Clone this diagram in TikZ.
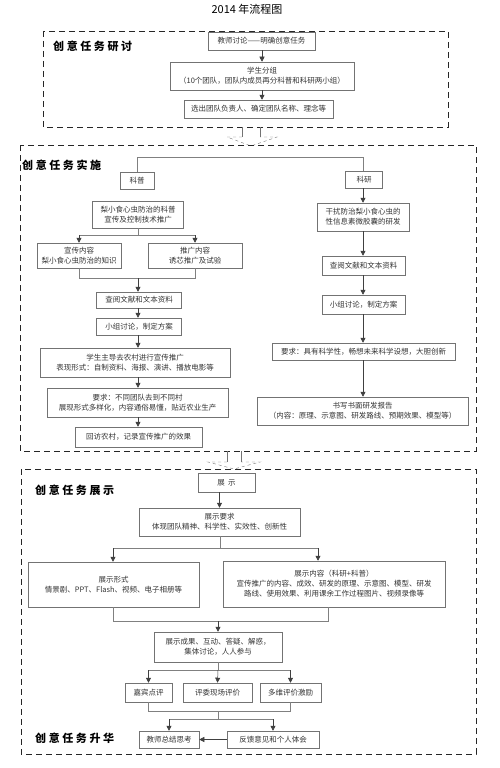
\documentclass[tikz,border=0pt]{standalone}
\usepackage{fontspec}
\setmainfont{Noto Sans CJK SC}
\usetikzlibrary{arrows.meta}
\newcommand\lsp{\kern2.6pt}
\begin{document}
\begin{tikzpicture}[x=1pt,y=1pt,
 box/.style={draw=black!55, line width=0.5pt, align=center, font=\fontsize{7.5}{10}\selectfont, inner sep=1pt, text=black!80},
 arr/.style={draw=black!75, line width=0.5pt, -{Triangle[length=5pt,width=5pt]}},
 ln/.style={draw=black!50, line width=0.5pt},
 sect/.style={draw=black!85, line width=0.8pt, dash pattern=on 6pt off 4pt},
 slabel/.style={font=\fontsize{11}{13}\selectfont\bfseries, anchor=west, inner sep=0pt},
 barrow/.style={draw=black!55, line width=0.4pt},
]
\useasboundingbox (0,0) rectangle (500,-768);

\node[font=\fontsize{11}{13}\selectfont, inner sep=0pt] (title) at (247,-9) {2014 年流程图};

% ---------- section 1
\draw[sect] (43,-31) rectangle (448,-127);
\node[slabel] (l1) at (53,-46) {创\lsp 意\lsp 任\lsp 务\lsp 研\lsp 讨};
\node[box, minimum width=107pt, minimum height=18pt] (t1) at (261.5,-41) {教师讨论——明确创意任务};
\node[box, minimum width=184pt, minimum height=28pt] (t2) at (262,-76) {学生分组\\（10个团队，团队内成员再分科普和科研两小组）};
\node[box, minimum width=149pt, minimum height=18pt] (t3) at (258.5,-109) {选出团队负责人、确定团队名称、理念等};
\draw[arr] (t1.south -| 262,0) -- (t2.north -| 262,0);
\draw[arr] (t2.south -| 262,0) -- (t3.north -| 262,0);

% block arrow 1
\draw[barrow] (242,-127) -- (242,-137) (260,-127) -- (260,-137);
\draw[barrow, dashed] (242,-137) -- (227,-137) -- (251,-146) -- (277,-137) -- (260,-137);

% ---------- section 2
\draw[sect] (20,-145) rectangle (476,-451);
\node[slabel] (l2) at (22,-165) {创\lsp 意\lsp 任\lsp 务\lsp 实\lsp 施};

% left column
\node[box, minimum width=34pt, minimum height=17pt] (kp) at (137,-180.5) {科普};
\node[box, minimum width=91pt, minimum height=27pt] (kp1) at (138,-214.5) {梨小食心虫防治的科普\\宣传及控制技术推广};
\node[box, minimum width=84pt, minimum height=25pt] (kp2a) at (79,-255.5) {宣传内容\\梨小食心虫防治的知识};
\node[box, minimum width=94pt, minimum height=25pt] (kp2b) at (195,-255.5) {推广内容\\诱芯推广及试验};
\node[box, minimum width=85pt, minimum height=16pt] (kp3) at (139,-300) {查阅文献和文本资料};
\node[box, minimum width=85pt, minimum height=17pt] (kp4) at (139,-326.5) {小组讨论，制定方案};
\node[box, minimum width=190pt, minimum height=29pt] (kp5) at (135,-362.5) {学生主导去农村进行宣传推广\\表现形式：自制资料、海报、演讲、播放电影等};
\node[box, minimum width=181pt, minimum height=29pt] (kp6) at (137.5,-402.5) {要求：不同团队去到不同村\\展现形式多样化，内容通俗易懂，贴近农业生产};
\node[box, minimum width=127pt, minimum height=20pt] (kp7) at (138.5,-437) {回访农村，记录宣传推广的效果};

% right column
\node[box, minimum width=37pt, minimum height=17pt] (ky) at (364,-179.5) {科研};
\node[box, minimum width=92pt, minimum height=28pt] (ky1) at (363,-217) {干扰防治梨小食心虫的\\性信息素微胶囊的研发};
\node[box, minimum width=83pt, minimum height=19pt] (ky2) at (363.5,-265.5) {查阅文献和文本资料};
\node[box, minimum width=83pt, minimum height=19pt] (ky3) at (363.5,-304.5) {小组讨论，制定方案};
\node[box, minimum width=183pt, minimum height=17pt] (ky4) at (363.5,-351.5) {要求：具有科学性，畅想未来科学设想，大胆创新};
\node[box, minimum width=211pt, minimum height=28pt] (ky5) at (362.5,-411) {书写书面研发报告\\（内容：原理、示意图、研发路线、预期效果、模型等）};

\coordinate (topL) at (137,-157);
\coordinate (topR) at (363,-157);
\draw[ln] (kp.north -| topL) -- (topL) -- (topR) -- (ky.north -| topR);

\coordinate (s1) at (138,-235);
\draw[ln] (kp1.south -| s1) -- (s1);
\draw[ln] (kp2a.north |- s1) -- (kp2b.north |- s1);
\draw[arr] (kp2a.north |- s1) -- (kp2a.north);
\draw[arr] (kp2b.north |- s1) -- (kp2b.north);
\coordinate (j1) at (138,-278);
\draw[ln] (kp2a.south) -- (kp2a.south |- j1) -- (kp2b.south |- j1) -- (kp2b.south);
\draw[arr] (j1) -- (kp3.north -| j1);
\draw[arr] (kp3.south -| j1) -- (kp4.north -| j1);
\draw[arr] (kp4.south -| j1) -- (kp5.north -| j1);
\draw[arr] (kp5.south -| j1) -- (kp6.north -| j1);
\draw[arr] (kp6.south -| j1) -- (kp7.north -| j1);

\draw[arr] (ky.south -| topR) -- (ky1.north -| topR);
\draw[arr] (ky1.south -| topR) -- (ky2.north -| topR);
\draw[arr] (ky2.south -| topR) -- (ky3.north -| topR);
\draw[arr] (ky3.south -| topR) -- (ky4.north -| topR);
\draw[arr] (ky4.south -| topR) -- (ky5.north -| topR);

% block arrow 2
\draw[barrow] (227,-451) -- (227,-462) (241,-451) -- (241,-462);
\draw[barrow, dashed] (227,-462) -- (208,-462) -- (234,-469) -- (260,-462) -- (241,-462);

% ---------- section 3
\draw[sect] (21,-469) rectangle (476,-754);
\node[slabel] (l3) at (35,-490) {创\lsp 意\lsp 任\lsp 务\lsp 展\lsp 示};
\node[slabel] (l4) at (35,-738) {创\lsp 意\lsp 任\lsp 务\lsp 升\lsp 华};

\node[box, minimum width=57pt, minimum height=19pt] (zs) at (226.5,-482.5) {展\ \ 示};
\node[box, minimum width=161pt, minimum height=28pt] (zs1) at (219.5,-522) {展示要求\\体现团队精神、科学性、实效性、创新性};
\node[box, minimum width=171pt, minimum height=45pt] (zx) at (113.5,-584.5) {展示形式\\情景剧、PPT、Flash、视频、电子相册等};
\node[box, minimum width=222pt, minimum height=46pt] (zn) at (334,-584) {展示内容（科研+科普）\\宣传推广的内容、成效、研发的原理、示意图、模型、研发\\路线、使用效果、利用课余工作过程图片、视频录像等};
\node[box, minimum width=128pt, minimum height=30pt] (zc) at (218,-647) {展示成果、互动、答疑、解惑，\\集体讨论，人人参与};
\node[box, minimum width=47pt, minimum height=19pt] (e1) at (148.5,-692.5) {嘉宾点评};
\node[box, minimum width=69pt, minimum height=19pt] (e2) at (217.5,-692.5) {评委现场评价};
\node[box, minimum width=61pt, minimum height=19pt] (e3) at (290.5,-692.5) {多维评价激励};
\node[box, minimum width=60pt, minimum height=17pt] (f1) at (169,-739.5) {教师总结思考};
\node[box, minimum width=92pt, minimum height=17pt] (f2) at (273,-739.5) {反馈意见和个人体会};

\draw[arr] (zs.south -| zs1.north) -- (zs1.north);
\coordinate (b1) at (220,-548);
\coordinate (b1L) at (113,-548);
\coordinate (b1R) at (318,-548);
\draw[ln] (zs1.south -| b1) -- (b1);
\draw[ln] (b1L) -- (b1R);
\draw[arr] (b1L) -- (zx.north -| b1L);
\draw[arr] (b1R) -- (zn.north -| b1R);
\coordinate (j2L) at (113,-621);
\coordinate (j2R) at (328,-621);
\draw[ln] (zx.south -| j2L) -- (j2L) -- (j2R) -- (zn.south -| j2R);
\draw[arr] (zc.north |- j2L) -- (zc.north);
\coordinate (b2) at (218,-670);
\draw[ln] (zc.south) -- (b2);
\draw[ln] (e1.north |- b2) -- (e3.north |- b2);
\draw[arr] (e1.north |- b2) -- (e1.north);
\draw[arr] (b2) -- (e2.north);
\draw[arr] (e3.north |- b2) -- (e3.north);
\coordinate (j3) at (218,-711);
\draw[ln] (e1.south) -- (e1.south |- j3) -- (e3.south |- j3) -- (e3.south);
\coordinate (b3) at (218,-719);
\draw[ln] (j3) -- (b3);
\draw[ln] (f1.north |- b3) -- (f2.north |- b3);
\draw[arr] (f1.north |- b3) -- (f1.north);
\draw[arr] (f2.north |- b3) -- (f2.north);
\draw[arr] (f2.west) -- (f1.east);
\end{tikzpicture}
\end{document}
